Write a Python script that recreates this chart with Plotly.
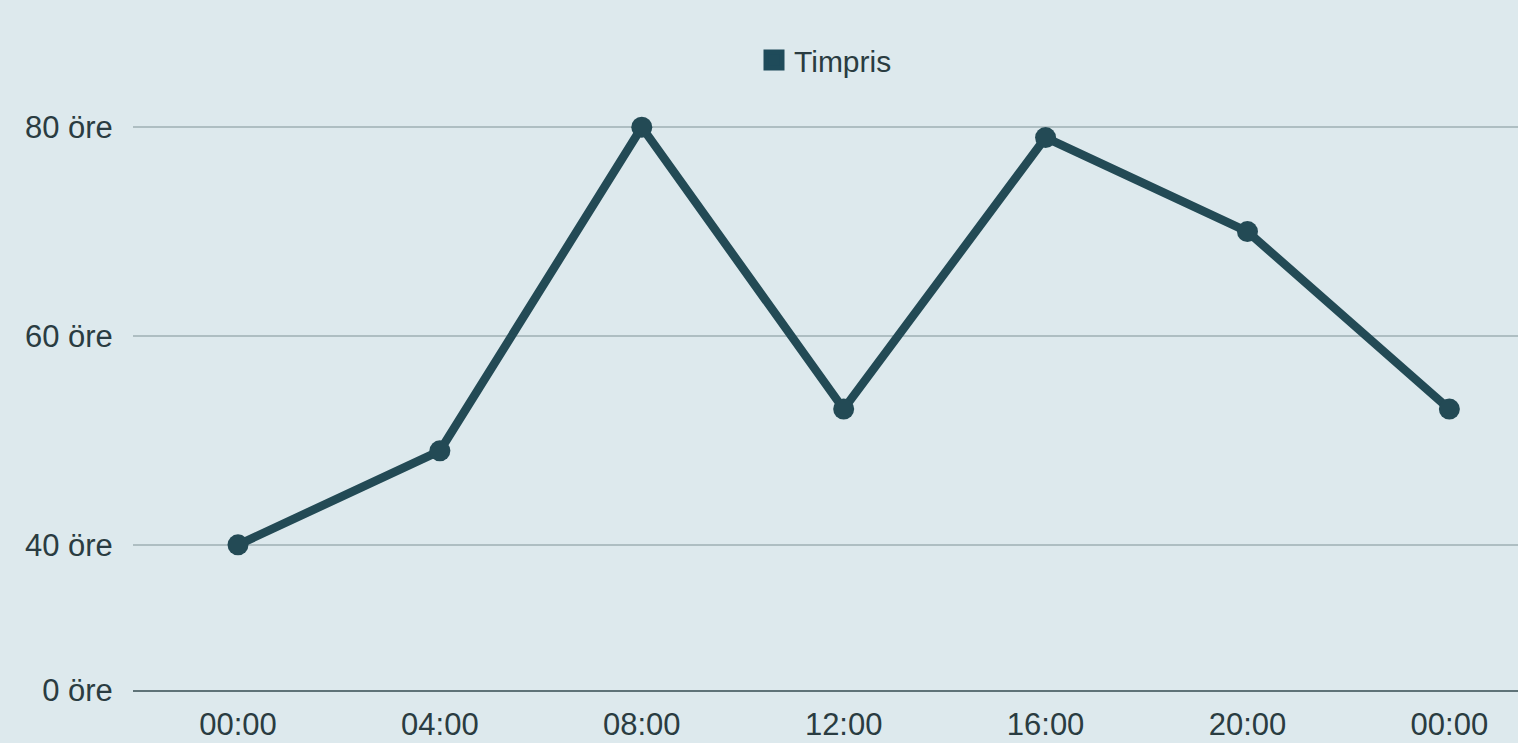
import plotly.graph_objects as go

hours = ["00:00", "04:00", "08:00", "12:00", "16:00", "20:00", "00:00"]
prices = [40, 49, 80, 53, 79, 70, 53]
y_tick_vals = [26.1, 40, 60, 80]
y_tick_text = ["0 öre", "40 öre", "60 öre", "80 öre"]

x_idx = list(range(len(hours)))
line_color = "#234a55"
bg = "#dde9ed"
font_family = "Liberation Sans, Arial, sans-serif"
text_color = "#2a3c41"

fig = go.Figure()
fig.add_trace(go.Scatter(
    x=x_idx, y=prices, mode="lines+markers",
    line=dict(color=line_color, width=8.5),
    marker=dict(color=line_color, size=21),
    showlegend=False, name="Timpris",
))
fig.add_trace(go.Scatter(
    x=[None], y=[None], mode="markers", name="Timpris",
    marker=dict(color="#1f4b5a", size=22, symbol="square",
                line=dict(color="#1f4b5a", width=5)),
    showlegend=True,
))

fig.update_layout(
    width=1518, height=743,
    paper_bgcolor=bg, plot_bgcolor=bg,
    margin=dict(l=133, r=0, t=100, b=53),
    font=dict(family=font_family, size=31, color=text_color),
    legend=dict(orientation="h", x=0.5, xanchor="center",
                y=1 - 60 / 743, yanchor="middle", yref="container",
                font=dict(size=30, color=text_color),
                bgcolor="rgba(0,0,0,0)", itemsizing="trace"),
    xaxis=dict(
        tickmode="array", tickvals=x_idx, ticktext=hours,
        range=[-0.52, 6.34], showgrid=False, zeroline=False,
        showline=True, linecolor="#5f7378", linewidth=2,
        ticks="outside", ticklen=6, tickcolor="rgba(0,0,0,0)",
        tickfont=dict(size=31),
    ),
    yaxis=dict(
        tickmode="array", tickvals=y_tick_vals, ticktext=y_tick_text,
        range=[26.1, 82.6], showgrid=True, gridcolor="#aebec2", gridwidth=2,
        zeroline=False, showline=False,
        ticks="outside", ticklen=13, tickcolor="rgba(0,0,0,0)",
        tickfont=dict(size=31),
    ),
)

fig.write_html("out.html", config={"displayModeBar": False},
               post_script="document.body.style.margin='0px';document.body.style.overflow='hidden';")
